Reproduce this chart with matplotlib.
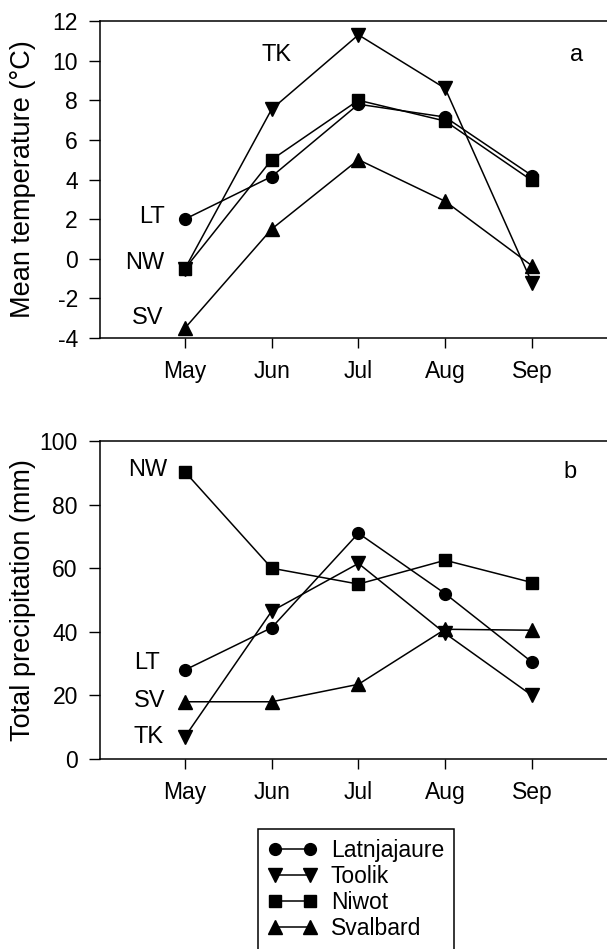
"""Monthly mean temperature and total precipitation at four tundra sites."""

import matplotlib
matplotlib.use("Agg")
import matplotlib.pyplot as plt

plt.rcParams["font.family"] = ["Liberation Sans", "DejaVu Sans"]
plt.rcParams["axes.unicode_minus"] = False

months = ["May", "Jun", "Jul", "Aug", "Sep"]
month_pos = [1, 2, 3, 4, 5]
sites = ["Latnjajaure", "Toolik", "Niwot", "Svalbard"]
site_markers = ["o", "v", "s", "^"]

# mean monthly temperature (degC)
temp_latnjajaure = [2.0, 4.15, 7.8, 7.15, 4.2]
temp_toolik = [-0.5, 7.55, 11.3, 8.6, -1.2]
temp_niwot = [-0.5, 5.0, 8.0, 6.95, 3.95]
temp_svalbard = [-3.5, 1.5, 5.0, 2.9, -0.35]

# total monthly precipitation (mm)
prec_latnjajaure = [28.0, 41.3, 71.0, 52.0, 30.5]
prec_toolik = [7.0, 46.5, 61.5, 39.5, 20.0]
prec_niwot = [90.3, 60.0, 55.0, 62.5, 55.5]
prec_svalbard = [18.0, 18.0, 23.5, 40.8, 40.5]

temp_series = [temp_latnjajaure, temp_toolik, temp_niwot, temp_svalbard]
prec_series = [prec_latnjajaure, prec_toolik, prec_niwot, prec_svalbard]

fig = plt.figure(figsize=(6.07, 9.49), dpi=100)
ax_a = fig.add_axes([0.1647, 0.6438, 0.883, 0.3341])
ax_b = fig.add_axes([0.1647, 0.2002, 0.883, 0.3351])


def draw_panel(ax, series, ylim, yticks, ylabel):
    handles = []
    for vals, mk, name in zip(series, site_markers, sites):
        ms = 8.5 if mk in ("o", "s") else 9.5
        (h,) = ax.plot(month_pos, vals, color="black", lw=1.1, marker=mk,
                       ms=ms, mfc="black", mec="black", label=name)
        handles.append(h)
    ax.set_xlim(0.02, 6.2)
    ax.set_ylim(*ylim)
    ax.set_xticks(month_pos)
    ax.set_xticklabels(months)
    ax.set_yticks(yticks)
    ax.set_yticklabels([str(t) for t in yticks])
    ax.tick_params(axis="y", direction="out", length=8, width=1.0,
                   pad=8, labelsize=16.5)
    ax.tick_params(axis="x", direction="out", length=7, width=1.0,
                   pad=9, labelsize=16.5)
    for sp in ax.spines.values():
        sp.set_linewidth(1.1)
    ax.set_ylabel(ylabel, fontsize=19.5)
    ax.yaxis.set_label_coords(-0.12, 0.5)
    return handles


handles = draw_panel(ax_a, temp_series, (-4, 12), list(range(-4, 13, 2)),
                     "Mean temperature (°C)")
draw_panel(ax_b, prec_series, (0, 100), list(range(0, 101, 20)),
           "Total precipitation (mm)")

# site abbreviations next to the first point of each line
lab_kw = dict(va="center", fontsize=17)
ax_a.text(0.77, 2.1, "LT", ha="right", **lab_kw)
ax_a.text(0.76, -0.2, "NW", ha="right", **lab_kw)
ax_a.text(0.75, -3.0, "SV", ha="right", **lab_kw)
ax_a.text(2.06, 10.3, "TK", ha="center", **lab_kw)
ax_a.text(5.52, 10.3, "a", ha="center", **lab_kw)

ax_b.text(0.80, 91.0, "NW", ha="right", **lab_kw)
ax_b.text(0.71, 30.2, "LT", ha="right", **lab_kw)
ax_b.text(0.77, 18.2, "SV", ha="right", **lab_kw)
ax_b.text(0.75, 6.8, "TK", ha="right", **lab_kw)
ax_b.text(5.44, 90.3, "b", ha="center", **lab_kw)

leg = fig.legend(handles=handles, loc="upper left",
                 bbox_to_anchor=(258 / 607, 1 - 829 / 949),
                 numpoints=2, handlelength=2.13, handletextpad=0.6,
                 labelspacing=0.12, borderpad=0.45, borderaxespad=0,
                 fontsize=16.5, frameon=True, fancybox=False,
                 edgecolor="black", framealpha=1)
leg.get_frame().set_linewidth(1.1)

fig.savefig("out.png", dpi=100)
